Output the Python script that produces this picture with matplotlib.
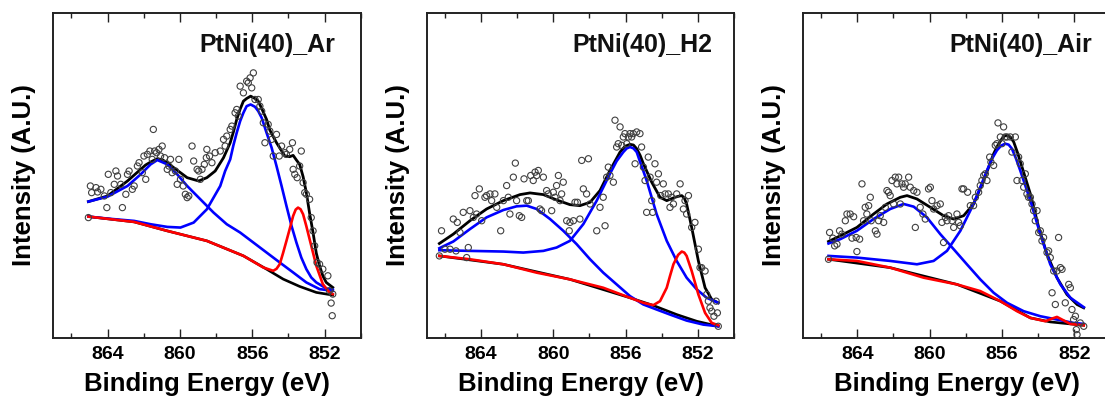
import numpy as np
import matplotlib.pyplot as plt
from matplotlib.ticker import MultipleLocator

plt.rcParams['font.family'] = ['Liberation Sans', 'DejaVu Sans']
plt.rcParams['font.weight'] = 'bold'

# ---------------- PtNi(40)_Ar ----------------
ar_title = 'PtNi(40)_Ar'
ar_ylim = 97.7
ar_be = [865.06, 864.95, 864.88, 864.64, 864.55, 864.37, 864.18, 864.04, 863.96, 863.82,
         863.63, 863.54, 863.45, 863.27, 863.18, 862.99, 862.90, 862.81, 862.63, 862.53,
         862.35, 862.26, 862.08, 861.99, 861.89, 861.80, 861.66, 861.53, 861.47, 861.40,
         861.29, 861.16, 861.07, 860.98, 860.85, 860.70, 860.61, 860.52, 860.43, 860.25,
         860.15, 860.06, 859.97, 859.82, 859.70, 859.60, 859.51, 859.33, 859.24, 859.05,
         858.96, 858.87, 858.78, 858.65, 858.54, 858.51, 858.36, 858.23, 858.05, 857.77,
         857.59, 857.50, 857.41, 857.22, 857.13, 856.95, 856.86, 856.77, 856.67, 856.49,
         856.31, 856.22, 856.12, 856.03, 855.94, 855.85, 855.67, 855.58, 855.48, 855.39,
         855.30, 855.12, 855.03, 854.93, 854.84, 854.66, 854.51, 854.38, 854.20, 854.11,
         853.93, 853.78, 853.74, 853.65, 853.52, 853.38, 853.29, 853.19, 853.10, 853.01,
         852.83, 852.74, 852.64, 852.55, 852.42, 852.28, 852.10, 851.82, 851.73, 851.64,
         851.58, 851.55]
ar_int = [36.2, 45.7, 43.7, 45.2, 43.9, 44.7, 42.7, 39.2, 49.2, 43.7,
          46.2, 50.2, 48.7, 46.2, 39.2, 43.2, 49.2, 50.2, 44.7, 45.7,
          51.7, 52.7, 49.7, 54.7, 47.7, 55.2, 56.2, 53.7, 62.7, 56.2,
          55.7, 56.7, 54.7, 57.7, 54.2, 50.7, 51.7, 53.7, 49.7, 50.2,
          46.2, 53.7, 47.7, 45.7, 43.2, 42.2, 42.7, 57.7, 53.2, 50.7,
          50.2, 47.7, 50.7, 52.2, 54.2, 56.7, 54.7, 52.7, 55.7, 56.2,
          59.7, 57.7, 60.7, 62.7, 63.7, 67.7, 68.7, 66.7, 75.7, 73.7,
          77.2, 76.7, 78.2, 75.2, 79.7, 71.7, 71.7, 69.7, 68.2, 64.7,
          58.7, 64.2, 62.2, 59.7, 54.7, 61.2, 54.7, 57.7, 55.7, 55.2,
          56.7, 58.7, 50.7, 49.2, 48.2, 51.7, 56.2, 46.7, 43.7, 43.2,
          41.7, 36.2, 32.2, 27.7, 22.7, 22.2, 20.7, 18.7, 14.2, 10.5,
          6.7, 13.2]
ar_fit_be = [865.06, 864.00, 862.90, 862.17, 861.90, 861.62, 861.25, 860.98, 860.70, 860.34,
             859.60, 858.96, 858.51, 858.05, 857.59, 857.22, 857.04, 856.86, 856.67, 856.49,
             856.31, 856.09, 855.85, 855.67, 855.48, 855.21, 855.03, 854.66, 854.20, 853.93,
             853.74, 853.56, 853.38, 853.19, 853.01, 852.83, 852.64, 852.46, 852.28, 852.10,
             851.91, 851.55]
ar_fit = [41.0, 42.7, 47.2, 50.7, 52.0, 52.9, 53.9, 53.6, 52.7, 51.2,
          48.2, 47.2, 48.2, 50.2, 54.2, 58.7, 62.0, 65.7, 68.8, 71.2,
          72.0, 72.7, 72.0, 71.2, 69.0, 65.7, 62.5, 58.7, 54.7, 54.5,
          54.9, 53.5, 52.2, 48.5, 43.7, 37.5, 31.7, 25.5, 21.7, 18.7,
          16.7, 15.2]
ar_bg_be = [865.06, 862.53, 860.70, 858.51, 856.49, 855.21, 854.29, 853.38, 852.46, 851.55]
ar_bg = [36.5, 34.9, 32.2, 29.2, 24.7, 20.7, 17.7, 15.5, 13.7, 12.9]
ar_sat_be = [865.06, 864.00, 862.90, 862.17, 861.62, 861.25, 860.70, 860.15, 859.60, 858.87,
             858.14, 857.41, 856.67, 855.94, 855.21, 854.48, 853.74, 853.01, 852.28, 851.55]
ar_sat = [41.0, 42.5, 45.7, 49.2, 52.2, 53.5, 52.2, 49.2, 45.7, 41.7,
          37.7, 34.2, 31.7, 28.7, 25.7, 22.7, 19.7, 16.7, 14.7, 14.2]
ar_main_be = [865.06, 864.00, 862.53, 861.62, 860.70, 859.97, 859.24, 858.51, 857.77, 857.50,
              857.22, 857.04, 856.86, 856.67, 856.49, 856.31, 856.09, 855.85, 855.67, 855.48,
              855.21, 854.93, 854.66, 854.38, 854.11, 853.83, 853.56, 853.29, 853.01, 852.74,
              852.46, 851.91, 851.55]
ar_main = [36.5, 35.9, 35.2, 34.2, 33.4, 33.2, 34.7, 38.7, 45.7, 50.2,
           53.7, 58.0, 61.7, 65.2, 67.7, 69.7, 70.2, 69.5, 68.2, 66.2,
           61.7, 57.2, 51.7, 45.7, 39.7, 33.7, 28.7, 24.2, 20.7, 18.2,
           16.7, 14.9, 14.5]
ar_metal_be = [865.06, 862.53, 860.70, 858.51, 856.49, 855.39, 854.84, 854.66, 854.48, 854.30,
               854.11, 853.92, 853.74, 853.60, 853.47, 853.33, 853.19, 853.01, 852.83, 852.64,
               852.46, 852.10, 851.73, 851.55]
ar_metal = [36.5, 34.9, 32.2, 29.2, 24.7, 21.2, 20.2, 20.8, 22.2, 25.5,
            29.2, 33.0, 36.7, 38.6, 39.2, 38.7, 37.2, 33.6, 29.7, 25.6,
            21.7, 16.2, 13.7, 13.2]

# ---------------- PtNi(40)_H2 ----------------
h2_title = 'PtNi(40)_H2'
h2_ylim = 97.0
h2_be = [866.30, 866.18, 865.99, 865.71, 865.53, 865.38, 865.31, 865.16, 864.98, 864.79,
         864.70, 864.61, 864.42, 864.33, 864.24, 864.09, 863.96, 863.78, 863.69, 863.50,
         863.41, 863.23, 863.13, 862.91, 862.76, 862.58, 862.49, 862.40, 862.21, 862.10,
         862.03, 861.88, 861.75, 861.62, 861.47, 861.38, 861.25, 861.11, 861.01, 860.92,
         860.83, 860.74, 860.65, 860.55, 860.37, 860.28, 860.09, 860.00, 859.91, 859.82,
         859.72, 859.63, 859.54, 859.45, 859.26, 859.12, 859.08, 858.89, 858.80, 858.67,
         858.53, 858.43, 858.34, 858.16, 858.06, 857.97, 857.60, 857.42, 857.24, 857.14,
         857.05, 856.96, 856.87, 856.68, 856.59, 856.50, 856.41, 856.31, 856.22, 856.13,
         856.04, 855.94, 855.85, 855.76, 855.67, 855.58, 855.48, 855.39, 855.21, 855.12,
         855.02, 854.93, 854.84, 854.75, 854.65, 854.56, 854.51, 854.38, 854.29, 854.19,
         854.06, 853.92, 853.82, 853.64, 853.55, 853.46, 853.36, 853.18, 852.99, 852.81,
         852.72, 852.63, 852.53, 852.35, 852.17, 851.98, 851.89, 851.80, 851.61, 851.52,
         851.43, 851.34, 851.24, 851.12, 851.00, 850.93, 850.88]
h2_int = [24.5, 32.0, 26.5, 26.5, 35.5, 26.0, 34.5, 31.5, 37.5, 24.0,
          27.0, 38.0, 36.0, 42.5, 37.0, 44.5, 35.0, 42.0, 42.5, 43.0,
          41.0, 43.0, 39.0, 32.0, 41.0, 45.5, 42.0, 37.0, 48.0, 52.2,
          41.0, 36.5, 36.0, 47.5, 41.0, 41.0, 48.5, 47.0, 49.5, 48.5,
          50.0, 38.5, 38.0, 48.0, 44.0, 43.0, 38.0, 43.5, 42.0, 45.5,
          48.5, 41.0, 43.0, 46.5, 35.0, 32.0, 34.5, 35.0, 40.5, 40.5,
          35.5, 53.0, 44.5, 43.0, 53.5, 40.0, 32.0, 39.0, 42.0, 33.5,
          48.0, 51.0, 48.5, 46.5, 65.0, 57.0, 58.0, 63.0, 57.5, 60.0,
          61.0, 58.0, 60.0, 61.0, 60.0, 61.0, 52.0, 61.5, 61.0, 57.0,
          51.0, 47.0, 37.5, 54.0, 48.0, 41.0, 37.5, 52.0, 46.5, 49.0,
          42.5, 46.0, 43.0, 43.0, 39.0, 42.0, 40.0, 43.0, 46.0, 38.5,
          41.0, 37.0, 42.5, 33.0, 34.5, 26.5, 21.0, 21.0, 20.0, 13.0,
          11.0, 9.0, 8.0, 6.5, 11.0, 7.5, 3.5]
h2_fit_be = [866.30, 865.53, 864.61, 863.69, 862.76, 861.84, 861.29, 860.55, 859.82, 859.08,
             858.53, 857.97, 857.42, 856.87, 856.31, 856.04, 855.76, 855.57, 855.39, 855.20,
             855.02, 854.56, 854.10, 853.73, 853.27, 853.08, 852.90, 852.76, 852.63, 852.35,
             851.98, 851.61, 851.24, 850.88]
h2_fit = [28.2, 31.0, 35.0, 38.5, 41.0, 42.8, 43.3, 42.8, 41.2, 39.8,
          39.5, 40.5, 44.0, 50.0, 55.5, 57.2, 57.8, 57.6, 56.5, 54.5,
          52.0, 46.5, 42.0, 41.0, 42.0, 42.3, 42.5, 41.8, 40.0, 33.0,
          23.0, 15.0, 11.5, 10.5]
h2_bg_be = [866.30, 862.76, 859.08, 855.76, 854.47, 853.18, 852.07, 850.88]
h2_bg = [24.5, 22.0, 17.5, 12.0, 9.7, 7.0, 5.0, 3.5]
h2_sat_be = [866.30, 865.53, 864.61, 863.69, 862.76, 862.03, 861.47, 860.92, 860.18, 859.45,
             858.71, 857.97, 857.24, 856.50, 855.76, 855.02, 854.29, 853.55, 852.63, 851.71,
             850.88]
h2_sat = [26.8, 28.8, 32.5, 36.0, 38.2, 39.3, 39.5, 38.5, 35.5, 32.0,
          28.0, 23.5, 19.5, 16.0, 12.5, 10.0, 8.5, 7.0, 5.2, 4.0,
          3.5]
h2_main_be = [866.30, 864.61, 862.76, 861.66, 860.55, 859.82, 859.08, 858.34, 857.60, 856.87,
              856.50, 856.13, 855.94, 855.76, 855.57, 855.39, 855.20, 855.02, 854.84, 854.29,
              853.73, 853.18, 852.63, 852.07, 851.52, 850.88]
h2_main = [26.2, 26.0, 25.8, 25.5, 26.0, 27.0, 29.0, 34.0, 41.0, 49.0,
           52.8, 55.5, 56.6, 57.0, 56.6, 55.5, 52.5, 49.8, 47.0, 37.0,
           29.0, 23.0, 18.0, 14.5, 12.0, 10.5]
h2_metal_be = [866.30, 864.61, 862.76, 860.92, 859.08, 857.24, 855.76, 855.02, 854.47, 854.10,
               853.73, 853.55, 853.36, 853.10, 852.90, 852.76, 852.63, 852.35, 851.98, 851.61,
               851.24, 850.88]
h2_metal = [24.5, 23.5, 22.0, 19.5, 17.5, 15.0, 12.0, 10.5, 9.8, 11.0,
            15.0, 18.5, 22.0, 24.8, 25.8, 25.5, 24.5, 20.0, 13.0, 7.5,
            4.5, 3.8]

# ---------------- PtNi(40)_Air ----------------
air_title = 'PtNi(40)_Air'
air_ylim = 97.0
air_be = [865.59, 865.53, 865.35, 865.25, 865.12, 864.98, 864.85, 864.66, 864.57, 864.39,
          864.29, 864.20, 864.06, 864.02, 863.87, 863.74, 863.65, 863.56, 863.47, 863.37,
          863.28, 863.23, 863.00, 862.91, 862.82, 862.73, 862.54, 862.45, 862.36, 862.27,
          862.18, 862.08, 861.99, 861.90, 861.81, 861.71, 861.62, 861.53, 861.44, 861.35,
          861.16, 861.07, 860.88, 860.79, 860.70, 860.52, 860.37, 860.24, 860.06, 859.96,
          859.87, 859.78, 859.59, 859.41, 859.32, 859.23, 859.13, 859.04, 858.95, 858.76,
          858.67, 858.49, 858.40, 858.30, 858.21, 858.12, 857.90, 857.75, 857.57, 857.47,
          857.29, 857.20, 857.11, 857.01, 856.92, 856.83, 856.68, 856.61, 856.46, 856.37,
          856.28, 856.22, 856.09, 856.00, 855.91, 855.82, 855.72, 855.54, 855.45, 855.26,
          855.17, 855.08, 854.99, 854.89, 854.80, 854.71, 854.62, 854.53, 854.43, 854.34,
          854.25, 854.16, 854.06, 853.97, 853.88, 853.79, 853.70, 853.51, 853.42, 853.33,
          853.23, 853.14, 853.05, 852.96, 852.87, 852.77, 852.68, 852.50, 852.31, 852.22,
          852.13, 852.04, 851.94, 851.89, 851.85, 851.67, 851.48]
air_int = [23.5, 31.5, 29.8, 27.5, 28.0, 32.0, 31.0, 35.0, 37.0, 37.0,
           29.8, 36.2, 30.0, 25.8, 29.5, 46.0, 35.0, 39.0, 37.0, 39.5,
           42.0, 35.0, 32.0, 31.0, 35.0, 36.5, 34.5, 39.0, 44.0, 43.5,
           42.5, 47.0, 40.0, 48.0, 46.0, 48.0, 40.0, 46.0, 45.0, 46.0,
           48.0, 45.0, 44.0, 33.0, 43.5, 39.0, 37.0, 35.5, 44.5, 45.0,
           41.0, 38.5, 39.5, 40.0, 34.5, 28.5, 36.0, 35.0, 36.5, 35.0,
           33.0, 37.0, 34.5, 33.5, 44.5, 44.5, 43.5, 39.5, 39.5, 42.0,
           43.5, 45.5, 47.0, 48.5, 49.0, 47.0, 54.0, 52.5, 51.5, 57.5,
           58.0, 64.2, 60.0, 58.0, 63.0, 60.0, 60.0, 60.0, 55.5, 60.0,
           47.0, 54.0, 52.0, 47.0, 45.0, 49.0, 43.0, 42.0, 42.0, 40.0,
           38.0, 35.0, 38.0, 31.5, 32.0, 29.0, 30.0, 25.5, 26.0, 24.0,
           13.5, 20.0, 10.0, 20.0, 30.0, 21.0, 20.5, 10.5, 16.0, 15.0,
           8.5, 5.5, 6.5, 2.5, 1.0, 4.5, 3.5]
air_fit_be = [865.59, 864.94, 864.02, 863.10, 862.36, 861.62, 861.25, 860.70, 859.96, 859.23,
              858.67, 858.12, 857.57, 857.01, 856.46, 856.23, 856.00, 855.86, 855.72, 855.54,
              855.35, 855.12, 854.89, 854.43, 853.97, 853.51, 852.96, 852.41, 851.85, 851.48]
air_fit = [28.8, 30.5, 33.0, 37.0, 40.0, 42.0, 42.5, 41.5, 39.0, 36.5,
           35.5, 36.5, 40.0, 47.0, 55.0, 57.5, 59.5, 60.3, 60.5, 60.0,
           58.5, 55.0, 51.0, 43.0, 33.0, 25.0, 18.0, 13.0, 10.0, 9.0]
air_bg_be = [865.59, 862.18, 858.49, 856.09, 854.43, 853.33, 851.48]
air_bg = [23.5, 21.0, 16.0, 11.0, 6.0, 4.8, 3.8]
air_sat_be = [865.59, 864.94, 864.02, 863.10, 862.18, 861.44, 860.88, 860.15, 859.41, 858.67,
              857.94, 857.20, 856.46, 855.72, 854.80, 853.88, 852.96, 852.04, 851.48]
air_sat = [28.2, 29.5, 32.0, 35.5, 38.5, 40.0, 39.2, 36.0, 31.0, 26.5,
           22.0, 17.5, 13.5, 10.5, 8.0, 6.5, 5.5, 4.5, 4.2]
air_main_be = [865.59, 864.02, 862.18, 860.70, 859.78, 859.04, 858.30, 857.57, 856.83, 856.55,
               856.28, 856.05, 855.82, 855.63, 855.45, 855.22, 854.99, 854.43, 853.88, 853.33,
               852.77, 852.22, 851.48]
air_main = [24.5, 24.0, 23.0, 22.0, 23.0, 26.0, 32.0, 40.0, 50.0, 53.5,
            56.0, 57.4, 58.0, 57.7, 56.5, 53.5, 50.0, 41.0, 31.0, 22.0,
            16.0, 12.0, 9.2]
air_metal_be = [865.59, 864.02, 862.18, 860.33, 858.49, 857.20, 856.09, 855.17, 854.43, 853.60,
                853.23, 852.96, 852.68, 852.22, 851.48]
air_metal = [23.5, 23.0, 21.0, 18.0, 16.0, 14.0, 11.0, 8.0, 6.0, 5.0,
             5.8, 6.3, 5.5, 4.2, 3.8]


def draw_panel(ax, title, ylim, be, inten, bg_be, bg, sat_be, sat,
               main_be, main, metal_be, metal, fit_be, fit):
    """Один спектр Ni 2p: точки, фон, пики и суммарная кривая"""
    ax.plot(bg_be, bg, color='black', lw=1.9, zorder=2)
    ax.plot(fit_be, fit, color='black', lw=2.0, zorder=3, solid_joinstyle='round')
    ax.plot(sat_be, sat, color='#0000ff', lw=1.9, zorder=4, solid_joinstyle='round')
    ax.plot(main_be, main, color='#0000ff', lw=1.9, zorder=4, solid_joinstyle='round')
    ax.plot(metal_be, metal, color='#ff0000', lw=1.9, zorder=5, solid_joinstyle='round')
    ax.scatter(be, inten, s=20, facecolors='none', edgecolors='#404040',
               linewidths=0.8, zorder=6)

    ax.set_xlim(867, 850)
    ax.set_ylim(0, ylim)
    ax.xaxis.set_major_locator(MultipleLocator(4))
    ax.xaxis.set_minor_locator(MultipleLocator(2))
    ax.set_xticks([864, 860, 856, 852])
    ax.set_yticks([])
    ax.tick_params(axis='x', which='both', direction='in', top=True,
                   labelsize=14, pad=6, width=1.0, color='#222222')
    ax.tick_params(axis='x', which='major', length=6.5)
    ax.tick_params(axis='x', which='minor', length=3.5)
    for lab in ax.get_xticklabels():
        lab.set_fontweight('bold')
    for sp in ax.spines.values():
        sp.set_linewidth(1.4)
        sp.set_color('#222222')

    ax.text(0.475, 0.88, title, transform=ax.transAxes, fontsize=18,
            fontweight='bold', ha='left', va='baseline', color='#111111')
    ax.set_xlabel('Binding Energy (eV)', fontsize=18.5, fontweight='bold')
    ax.set_ylabel('Intensity (A.U.)', fontsize=18.5, fontweight='bold')
    ax.xaxis.set_label_coords(0.5, -0.105)
    ax.yaxis.set_label_coords(-0.055, 0.5)


fig = plt.figure(figsize=(11.05, 3.98), dpi=100)

W, H = 1105.0, 398.0
bottom = 1 - 338 / H
height = (338 - 13) / H
width = 307.5 / W

ax1 = fig.add_axes([53.3 / W, bottom, width, height])
ax2 = fig.add_axes([426.7 / W, bottom, width, height])
ax3 = fig.add_axes([803.0 / W, bottom, width, height])

draw_panel(ax1, ar_title, ar_ylim, ar_be, ar_int, ar_bg_be, ar_bg, ar_sat_be, ar_sat,
           ar_main_be, ar_main, ar_metal_be, ar_metal, ar_fit_be, ar_fit)
draw_panel(ax2, h2_title, h2_ylim, h2_be, h2_int, h2_bg_be, h2_bg, h2_sat_be, h2_sat,
           h2_main_be, h2_main, h2_metal_be, h2_metal, h2_fit_be, h2_fit)
draw_panel(ax3, air_title, air_ylim, air_be, air_int, air_bg_be, air_bg, air_sat_be, air_sat,
           air_main_be, air_main, air_metal_be, air_metal, air_fit_be, air_fit)

fig.savefig('out.png', dpi=100)
